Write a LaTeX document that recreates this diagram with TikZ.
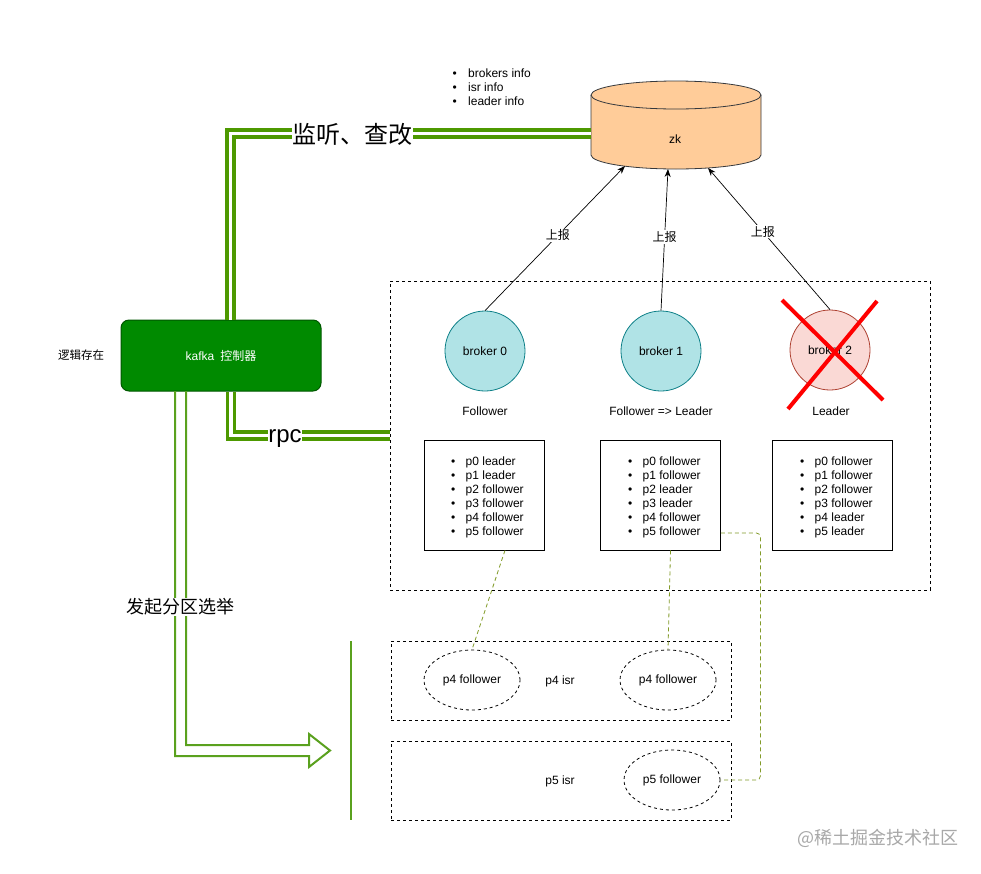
\documentclass[tikz,border=0pt]{standalone}
\usepackage{fontspec}
\setmainfont{Liberation Sans}
\newfontfamily\cjk{Noto Sans CJK SC}
\usetikzlibrary{arrows.meta,shapes.geometric}
\definecolor{lnk}{HTML}{4D9900}
\definecolor{agreen}{HTML}{5AA11E}
\definecolor{peach}{HTML}{FFCC99}
\definecolor{cylline}{HTML}{36393D}
\definecolor{ctrlfill}{HTML}{008A00}
\definecolor{ctrlline}{HTML}{005700}
\definecolor{bkfill}{HTML}{B0E3E6}
\definecolor{bkline}{HTML}{0E8088}
\definecolor{deadfill}{HTML}{FAD9D5}
\definecolor{deadline}{HTML}{AE4132}
\definecolor{olivec}{RGB}{130,155,40}
\definecolor{wmgray}{HTML}{A8A8A8}
\newcommand\mybul{\makebox[14.5pt][l]{•}}
\newcommand\mybulb{\makebox[15.5pt][l]{•}}
\begin{document}
\begin{tikzpicture}[x=1pt,y=-1pt,
  font=\fontsize{12}{14}\selectfont,
  link/.style={draw=lnk, line width=3.5pt, double=white, double distance=3.5pt},
  biglabel/.style={fill=white, inner sep=0.5pt, font=\fontsize{24}{26}\selectfont},
  ctrlbox/.style={draw=ctrlline, fill=ctrlfill, rounded corners=8pt, line width=1pt,
    minimum width=200pt, minimum height=71pt, text=white},
  bk/.style={circle, draw=bkline, fill=bkfill, minimum size=80pt, inner sep=0pt, line width=0.8pt},
  deadbk/.style={bk, draw=deadline, fill=deadfill},
  pbox/.style={draw, line width=0.8pt, minimum width=120pt, minimum height=110pt, inner sep=0pt},
  plist/.style={anchor=west, align=left, inner sep=0pt},
  isrbox/.style={draw, dash pattern=on 3pt off 3pt, line width=0.8pt, minimum width=340pt, minimum height=79pt},
  isrell/.style={ellipse, draw, dash pattern=on 3pt off 3pt, line width=0.8pt, minimum width=96pt, minimum height=60pt, inner sep=0pt},
  upar/.style={-{Stealth[length=8pt,width=6pt]}, line width=0.7pt},
  uplab/.style={fill=white, inner sep=1pt, font=\cjk\fontsize{12}{14}\selectfont},
  olconn/.style={draw=olivec, dash pattern=on 4pt off 3pt, line width=0.8pt}
]
\fill[white] (0,0) rectangle (981,873);
\useasboundingbox (0,0) rectangle (981,873);

% zk cylinder
\path[fill=peach, draw=cylline, line width=0.8pt] (591,95) -- (591,155)
  .. controls (591,162.7) and (629.1,169) .. (676,169)
  .. controls (722.9,169) and (761,162.7) .. (761,155) -- (761,95)
  .. controls (761,87.3) and (722.9,81) .. (676,81)
  .. controls (629.1,81) and (591,87.3) .. (591,95) -- cycle;
\draw[cylline, line width=0.8pt] (591,95) .. controls (591,102.7) and (629.1,109) .. (676,109)
  .. controls (722.9,109) and (761,102.7) .. (761,95);
\node[inner sep=0pt] (zk) at (675,139) {zk};
\coordinate (zkA) at (625,166);
\coordinate (zkB) at (668,169);
\coordinate (zkC) at (708,168);
\coordinate (zkW) at (591,133.5);

% info list
\node[plist] (info) at (452.5,87)
  {\mybulb brokers info\\\mybulb isr info\\\mybulb leader info};

% controller
\node[ctrlbox] (ctrl) at (221,355.5) {kafka\hspace{6pt}{\cjk 控制器}};
\node[font=\cjk\fontsize{11.5}{13}\selectfont] (logic) at (81,355) {逻辑存在};

% cluster box
\node[draw, dash pattern=on 3pt off 3pt, line width=0.8pt, minimum width=540pt, minimum height=309pt, inner sep=0pt] (cluster) at (660,435.5) {};

% brokers
\node[bk] (b0) at (485,351) {broker 0};
\node[bk] (b1) at (661,351) {broker 1};
\node[deadbk] (b2) at (830,350) {broker 2};
\draw[red, line width=4pt] (782,300) -- (883,400);
\draw[red, line width=4pt] (877,301) -- (788,409);

\node (r0) at (485,411) {Follower};
\node (r1) at (661,411) {Follower => Leader};
\node (r2) at (831,411) {Leader};

% partition lists
\node[pbox] (pA) at (484,495) {};
\node[pbox] (pB) at (660.5,495) {};
\node[pbox] (pC) at (832,495) {};
\node[plist] (lA) at (451,497) {\mybul p0 leader\\\mybul p1 leader\\\mybul p2 follower\\\mybul p3 follower\\\mybul p4 follower\\\mybul p5 follower};
\node[plist] (lB) at (628,497) {\mybul p0 follower\\\mybul p1 follower\\\mybul p2 leader\\\mybul p3 leader\\\mybul p4 follower\\\mybul p5 follower};
\node[plist] (lC) at (800,497) {\mybul p0 follower\\\mybul p1 follower\\\mybul p2 follower\\\mybul p3 follower\\\mybul p4 leader\\\mybul p5 leader};

% isr boxes
\node[isrbox] (isr4) at (561,680.5) {};
\node[isrbox] (isr5) at (561,780.5) {};
\node[isrell] (e1) at (472,680) {p4 follower};
\node[isrell] (e2) at (668,680) {p4 follower};
\node[isrell] (e3) at (672,780) {p5 follower};
\node (t4) at (560,681) {p4 isr};
\node (t5) at (560,781) {p5 isr};

% report arrows
\draw[upar] (b0.north) -- node[uplab, pos=0.52] {上报} (zkA);
\draw[upar] (b1.north) -- node[uplab, pos=0.52] {上报} (zkB);
\draw[upar] (b2.north) -- node[uplab, pos=0.55] {上报} (zkC);

% green links
\draw[link] ([xshift=9.5pt]ctrl.north) |- (zkW);
\node[biglabel, font=\cjk\fontsize{24}{26}\selectfont] (lab1) at (352,134) {监听、查改};
\draw[link] ([xshift=10pt]ctrl.south) |- (cluster.west);
\node[biglabel] (lab2) at (285,439) {rpc};

% election flex arrow
\draw[agreen, line width=2pt, line join=miter] (175,391) -- (175,756) -- (309,756) -- (309,767) -- (330,750.5) -- (309,734) -- (309,745) -- (186,745) -- (186,391);
\node[fill=white, inner sep=0.5pt, font=\cjk\fontsize{18}{20}\selectfont] (lab3) at (180,607) {发起分区选举};
\draw[agreen, line width=2pt] (350.5,641) -- (350.5,820);

% olive dashed connectors
\draw[olconn] ([xshift=21pt]pA.south) -- (e1.north);
\draw[olconn] ([xshift=10pt]pB.south) -- (e2.north);
\draw[olconn, rounded corners=4pt] ([yshift=-38pt]pB.east) -| ([xshift=40pt]e3.east) -- (e3.east);

% watermark
\node[text=wmgray, font=\cjk\fontsize{18}{20}\selectfont] (wm) at (878,838) {@稀土掘金技术社区};
\end{tikzpicture}
\end{document}
